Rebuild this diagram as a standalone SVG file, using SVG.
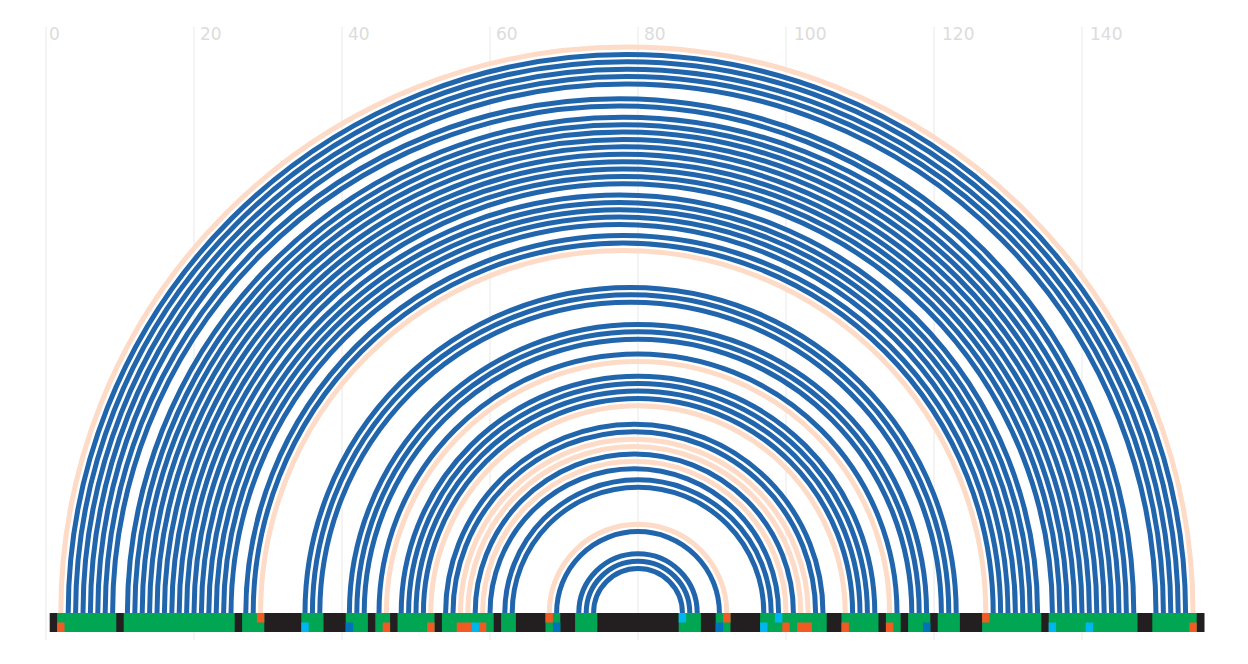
<svg xmlns="http://www.w3.org/2000/svg" width="1248" height="664" viewBox="0 0 1248 664">
<style>
.grid{stroke:#e8e8e8;stroke-width:1}
.lbl{font-family:"DejaVu Sans",sans-serif;font-size:17px;fill:#dcdcdc}
.b{fill:none;stroke:#2166ac;stroke-width:5}
.p{fill:none;stroke:#fddbc7;stroke-width:5}
.g{fill:#00a651}
.o{fill:#f15a22}
.c{fill:#00b6f0}
.d{fill:#0072bc}
</style>
<rect width="1248" height="664" fill="#ffffff"/>
<g id="axis">
<line class="grid" x1="46" y1="27" x2="46" y2="640"/>
<line class="grid" x1="194" y1="27" x2="194" y2="640"/>
<line class="grid" x1="342" y1="27" x2="342" y2="640"/>
<line class="grid" x1="490" y1="27" x2="490" y2="640"/>
<line class="grid" x1="638" y1="27" x2="638" y2="640"/>
<line class="grid" x1="786" y1="27" x2="786" y2="640"/>
<line class="grid" x1="934" y1="27" x2="934" y2="640"/>
<line class="grid" x1="1082" y1="27" x2="1082" y2="640"/>
<text class="lbl" x="49" y="40">0</text>
<text class="lbl" x="200" y="40">20</text>
<text class="lbl" x="348" y="40">40</text>
<text class="lbl" x="496" y="40">60</text>
<text class="lbl" x="644" y="40">80</text>
<text class="lbl" x="794" y="40">100</text>
<text class="lbl" x="942" y="40">120</text>
<text class="lbl" x="1090" y="40">140</text>
</g>
<g id="connectors">
<path class="p" d="M60.8 613A566.1 566.1 0 0 1 1193 613"/>
<path class="b" d="M68.2 613A558.7 558.7 0 0 1 1185.6 613"/>
<path class="b" d="M75.6 613A551.3 551.3 0 0 1 1178.2 613"/>
<path class="b" d="M83 613A543.9 543.9 0 0 1 1170.8 613"/>
<path class="b" d="M90.4 613A536.5 536.5 0 0 1 1163.4 613"/>
<path class="b" d="M97.8 613A529.1 529.1 0 0 1 1156 613"/>
<path class="b" d="M105.2 613A514.3 514.3 0 0 1 1133.8 613"/>
<path class="b" d="M112.6 613A506.9 506.9 0 0 1 1126.4 613"/>
<path class="b" d="M127.4 613A495.8 495.8 0 0 1 1119 613"/>
<path class="b" d="M134.8 613A488.4 488.4 0 0 1 1111.6 613"/>
<path class="b" d="M142.2 613A481 481 0 0 1 1104.2 613"/>
<path class="b" d="M149.6 613A473.6 473.6 0 0 1 1096.8 613"/>
<path class="b" d="M157 613A466.2 466.2 0 0 1 1089.4 613"/>
<path class="b" d="M164.4 613A458.8 458.8 0 0 1 1082 613"/>
<path class="b" d="M171.8 613A451.4 451.4 0 0 1 1074.6 613"/>
<path class="b" d="M179.2 613A444 444 0 0 1 1067.2 613"/>
<path class="b" d="M186.6 613A436.6 436.6 0 0 1 1059.8 613"/>
<path class="b" d="M194 613A429.2 429.2 0 0 1 1052.4 613"/>
<path class="b" d="M201.4 613A418.1 418.1 0 0 1 1037.6 613"/>
<path class="b" d="M208.8 613A410.7 410.7 0 0 1 1030.2 613"/>
<path class="b" d="M216.2 613A403.3 403.3 0 0 1 1022.8 613"/>
<path class="b" d="M223.6 613A395.9 395.9 0 0 1 1015.4 613"/>
<path class="b" d="M231 613A388.5 388.5 0 0 1 1008 613"/>
<path class="b" d="M245.8 613A377.4 377.4 0 0 1 1000.6 613"/>
<path class="b" d="M253.2 613A370 370 0 0 1 993.2 613"/>
<path class="p" d="M260.6 613A362.6 362.6 0 0 1 985.8 613"/>
<path class="b" d="M305 613A325.6 325.6 0 0 1 956.2 613"/>
<path class="b" d="M312.4 613A318.2 318.2 0 0 1 948.8 613"/>
<path class="b" d="M319.8 613A310.8 310.8 0 0 1 941.4 613"/>
<path class="b" d="M349.4 613A288.6 288.6 0 0 1 926.6 613"/>
<path class="b" d="M356.8 613A281.2 281.2 0 0 1 919.2 613"/>
<path class="b" d="M364.2 613A273.8 273.8 0 0 1 911.8 613"/>
<path class="b" d="M379 613A259 259 0 0 1 897 613"/>
<path class="p" d="M386.4 613A251.6 251.6 0 0 1 889.6 613"/>
<path class="b" d="M401.2 613A236.8 236.8 0 0 1 874.8 613"/>
<path class="b" d="M408.6 613A229.4 229.4 0 0 1 867.4 613"/>
<path class="b" d="M416 613A222 222 0 0 1 860 613"/>
<path class="b" d="M423.4 613A214.6 214.6 0 0 1 852.6 613"/>
<path class="p" d="M430.8 613A207.2 207.2 0 0 1 845.2 613"/>
<path class="b" d="M445.6 613A188.7 188.7 0 0 1 823 613"/>
<path class="b" d="M453 613A181.3 181.3 0 0 1 815.6 613"/>
<path class="p" d="M460.4 613A173.9 173.9 0 0 1 808.2 613"/>
<path class="p" d="M467.8 613A166.5 166.5 0 0 1 800.8 613"/>
<path class="b" d="M475.2 613A159.1 159.1 0 0 1 793.4 613"/>
<path class="p" d="M482.6 613A151.7 151.7 0 0 1 786 613"/>
<path class="b" d="M490 613A144.3 144.3 0 0 1 778.6 613"/>
<path class="b" d="M504.8 613A133.2 133.2 0 0 1 771.2 613"/>
<path class="b" d="M512.2 613A125.8 125.8 0 0 1 763.8 613"/>
<path class="p" d="M549.2 613A88.8 88.8 0 0 1 726.8 613"/>
<path class="b" d="M556.6 613A81.4 81.4 0 0 1 719.4 613"/>
<path class="b" d="M578.8 613A59.2 59.2 0 0 1 697.2 613"/>
<path class="b" d="M586.2 613A51.8 51.8 0 0 1 689.8 613"/>
<path class="b" d="M593.6 613A44.4 44.4 0 0 1 682.4 613"/>
</g>
<g id="sequence-bar">
<rect x="49.7" y="613" width="1154.8" height="19" fill="#231f20"/>
<g id="paired">
<rect class="g" x="57.1" y="613" width="59.2" height="19"/>
<rect class="g" x="123.7" y="613" width="111" height="19"/>
<rect class="g" x="242.1" y="613" width="22.2" height="19"/>
<rect class="g" x="301.3" y="613" width="22.2" height="19"/>
<rect class="g" x="345.7" y="613" width="22.2" height="19"/>
<rect class="g" x="375.3" y="613" width="14.8" height="19"/>
<rect class="g" x="397.5" y="613" width="37" height="19"/>
<rect class="g" x="441.9" y="613" width="51.8" height="19"/>
<rect class="g" x="501.1" y="613" width="14.8" height="19"/>
<rect class="g" x="545.5" y="613" width="14.8" height="19"/>
<rect class="g" x="575.1" y="613" width="22.2" height="19"/>
<rect class="g" x="678.7" y="613" width="22.2" height="19"/>
<rect class="g" x="715.7" y="613" width="14.8" height="19"/>
<rect class="g" x="760.1" y="613" width="66.6" height="19"/>
<rect class="g" x="841.5" y="613" width="37" height="19"/>
<rect class="g" x="885.9" y="613" width="14.8" height="19"/>
<rect class="g" x="908.1" y="613" width="22.2" height="19"/>
<rect class="g" x="937.7" y="613" width="22.2" height="19"/>
<rect class="g" x="982.1" y="613" width="59.2" height="19"/>
<rect class="g" x="1048.7" y="613" width="88.8" height="19"/>
<rect class="g" x="1152.3" y="613" width="44.4" height="19"/>
</g>
<g id="markers">
<rect class="o" x="57.1" y="622.5" width="7.4" height="9.5"/>
<rect class="o" x="382.7" y="622.5" width="7.4" height="9.5"/>
<rect class="o" x="427.1" y="622.5" width="7.4" height="9.5"/>
<rect class="o" x="456.7" y="622.5" width="14.8" height="9.5"/>
<rect class="o" x="478.9" y="622.5" width="7.4" height="9.5"/>
<rect class="o" x="782.3" y="622.5" width="7.4" height="9.5"/>
<rect class="o" x="797.1" y="622.5" width="14.8" height="9.5"/>
<rect class="o" x="841.5" y="622.5" width="7.4" height="9.5"/>
<rect class="o" x="885.9" y="622.5" width="7.4" height="9.5"/>
<rect class="o" x="1189.3" y="622.5" width="7.4" height="9.5"/>
<rect class="o" x="256.9" y="613" width="7.4" height="9.5"/>
<rect class="o" x="545.5" y="613" width="7.4" height="9.5"/>
<rect class="o" x="723.1" y="613" width="7.4" height="9.5"/>
<rect class="o" x="982.1" y="613" width="7.4" height="9.5"/>
<rect class="c" x="301.3" y="622.5" width="7.4" height="9.5"/>
<rect class="c" x="471.5" y="622.5" width="7.4" height="9.5"/>
<rect class="c" x="760.1" y="622.5" width="7.4" height="9.5"/>
<rect class="c" x="1048.7" y="622.5" width="7.4" height="9.5"/>
<rect class="c" x="1085.7" y="622.5" width="7.4" height="9.5"/>
<rect class="c" x="678.7" y="613" width="7.4" height="9.5"/>
<rect class="c" x="774.9" y="613" width="7.4" height="9.5"/>
<rect class="d" x="345.7" y="622.5" width="7.4" height="9.5"/>
<rect class="d" x="552.9" y="622.5" width="7.4" height="9.5"/>
<rect class="d" x="715.7" y="622.5" width="7.4" height="9.5"/>
<rect class="d" x="922.9" y="622.5" width="7.4" height="9.5"/>
</g>
</g>
</svg>
